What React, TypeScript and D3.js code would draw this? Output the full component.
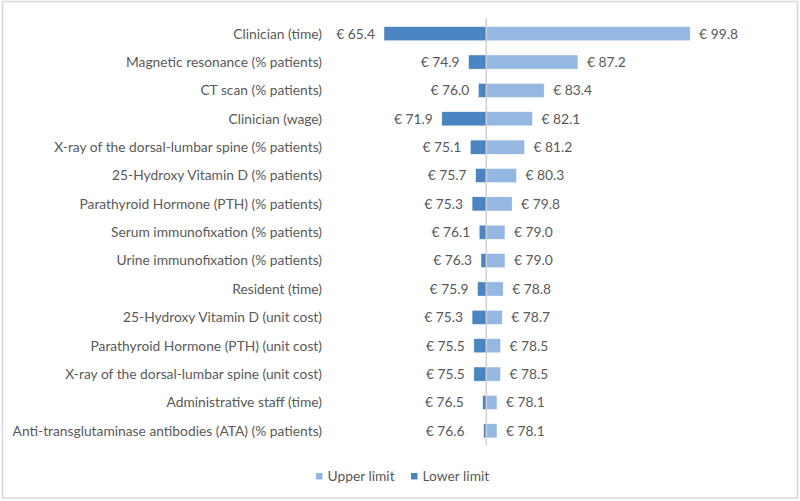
import React from "react";
import * as d3 from "d3";

const categories = [
  "Clinician (time)",
  "Magnetic resonance (% patients)",
  "CT scan (% patients)",
  "Clinician (wage)",
  "X-ray of the dorsal-lumbar spine (% patients)",
  "25-Hydroxy Vitamin D (% patients)",
  "Parathyroid Hormone (PTH) (% patients)",
  "Serum immunofixation (% patients)",
  "Urine immunofixation (% patients)",
  "Resident (time)",
  "25-Hydroxy Vitamin D (unit cost)",
  "Parathyroid Hormone (PTH) (unit cost)",
  "X-ray of the dorsal-lumbar spine (unit cost)",
  "Administrative staff (time)",
  "Anti-transglutaminase antibodies (ATA) (% patients)",
];
const lowerLimit = [65.4, 74.9, 76.0, 71.9, 75.1, 75.7, 75.3, 76.1, 76.3, 75.9, 75.3, 75.5, 75.5, 76.5, 76.6];
const upperLimit = [99.8, 87.2, 83.4, 82.1, 81.2, 80.3, 79.8, 79.0, 79.0, 78.8, 78.7, 78.5, 78.5, 78.1, 78.1];
const baseCase = 76.9;
const legendLabels = ["Upper limit", "Lower limit"];

const FONT = "Lato, 'Open Sans', sans-serif";
const FS = 13.8;
const TEXT = "#595959";
const DARK = "#4a85c1";
const LIGHT = "#95b8e3";

export default function App() {
  const x = d3.scaleLinear().domain([60, 100]).range([335.9, 691.9]);
  const y = d3.scaleBand<string>().domain(categories).range([19.5, 445]).paddingInner(0.5).paddingOuter(0.25);
  const bw = y.bandwidth();
  const fmt = (v: number) => "€ " + d3.format(".1f")(v);
  const x0 = x(baseCase);

  return (
    <svg width={800} height={501} style={{ position: "fixed", left: 0, top: 0, background: "#fff" }} fontFamily={FONT}>
      <rect x={2.5} y={1.5} width={795} height={496.5} fill="#fff" stroke="#d9d9d9" strokeWidth={1.5} />
      {categories.map((c, i) => {
        const yc = (y(c) as number) + bw / 2;
        const xl = x(lowerLimit[i]);
        const xh = x(upperLimit[i]);
        const lowW = x0 - xl;
        const lowGap = lowW < 4 ? 19 : 9;
        return (
          <g key={c}>
            <text x={322} y={yc} dy="0.35em" textAnchor="end" fontSize={FS} fill={TEXT}>{c}</text>
            <rect x={xl} y={y(c)} width={lowW} height={bw} fill={DARK} stroke="#fff" strokeWidth={0.5} />
            <rect x={x0} y={y(c)} width={xh - x0} height={bw} fill={LIGHT} stroke="#fff" strokeWidth={0.5} />
            <text x={xl - lowGap} y={yc} dy="0.35em" textAnchor="end" fontSize={FS} fill={TEXT}>{fmt(lowerLimit[i])}</text>
            <text x={xh + 9} y={yc} dy="0.35em" textAnchor="start" fontSize={FS} fill={TEXT}>{fmt(upperLimit[i])}</text>
          </g>
        );
      })}
      <line x1={x0} x2={x0} y1={18} y2={445} stroke="#d0d0d0" strokeWidth={1.5} />
      <g>
        <rect x={316} y={473} width={6.5} height={6.5} fill={LIGHT} />
        <text x={327.5} y={476.5} dy="0.35em" fontSize={FS} fill={TEXT}>{legendLabels[0]}</text>
        <rect x={411} y={473} width={6.5} height={6.5} fill={DARK} />
        <text x={422.5} y={476.5} dy="0.35em" fontSize={FS} fill={TEXT}>{legendLabels[1]}</text>
      </g>
    </svg>
  );
}
